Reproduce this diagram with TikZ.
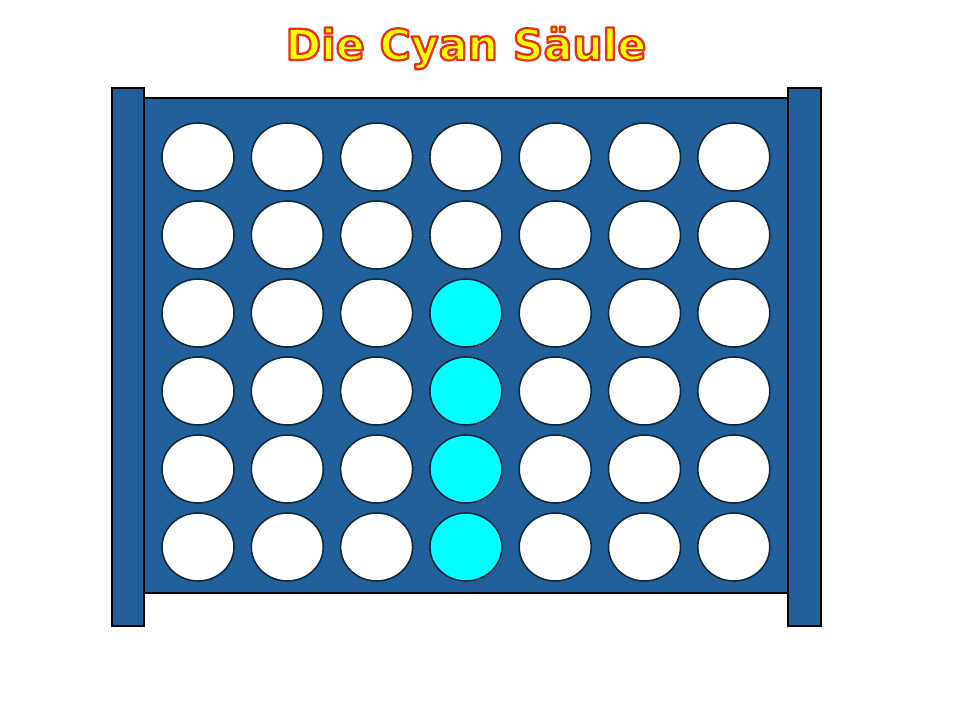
\documentclass[tikz,border=0pt]{standalone}
\usepackage{fontspec}
\newfontfamily\titlefont{DejaVu Sans Bold}
\usetikzlibrary{positioning,shapes.geometric}
\definecolor{boardblue}{HTML}{22609C}
\definecolor{holeline}{HTML}{10293A}
\definecolor{titleyellow}{HTML}{FFFF00}
\definecolor{stonecyan}{HTML}{00FFFF}
\newlength{\pxu}
\setlength{\pxu}{0.02cm}
% outlined text: fill in the current colour, red stroke round it
\newcommand{\outlined}[1]{%
  \special{pdf:literal direct 2 Tr 1.3 w 1 J 1 j 0.91 0.19 0.10 RG}#1%
  \special{pdf:literal direct 0 Tr}}
\tikzset{
  boardpart/.style={draw=black, fill=boardblue, line width=1.1pt},
  hole/.style={ellipse, draw=holeline, fill=white, minimum width=72\pxu,
    minimum height=68\pxu, inner sep=0pt, line width=0.9pt},
  cyanhole/.style={hole, fill=stonecyan},
}
\begin{document}
\begin{tikzpicture}[x=0.02cm, y=-0.02cm]
\useasboundingbox[fill=white] (0,0) rectangle (960,720);
% title
\node[font=\titlefont\fontsize{24.3}{29}\selectfont, text=titleyellow] (title) at (466,48)
  {\outlined{Die Cyan Säule}};
% the board and its two posts
\draw[boardpart] (144,98) rectangle (788,593);
\draw[boardpart] (112,88) rectangle (144,626);
\draw[boardpart] (788,88) rectangle (821,626);
% the holes, column 4 filled from the bottom
\foreach \col in {1,...,7} {
  \foreach \row in {1,...,6} {
    \pgfmathsetmacro{\hx}{198+89.3*(\col-1)}
    \pgfmathsetmacro{\hy}{157+78*(\row-1)}
    \ifnum\col=4 \ifnum\row>2
      \node[cyanhole] (h\col\row) at (\hx,\hy) {};
    \else
      \node[hole] (h\col\row) at (\hx,\hy) {};
    \fi \else
      \node[hole] (h\col\row) at (\hx,\hy) {};
    \fi
  }
}
\end{tikzpicture}
\end{document}
